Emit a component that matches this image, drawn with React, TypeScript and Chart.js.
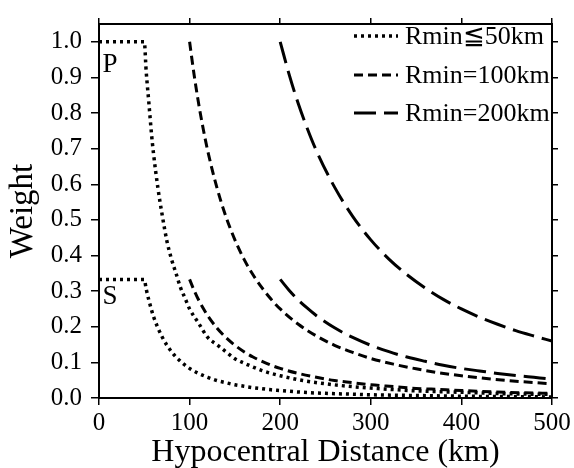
import React, { useEffect, useRef } from "react";
import { Chart, registerables } from "chart.js";
Chart.register(...registerables);

// Hypocentral distance samples (km) and weights
const x50 = [0, 50, 52, 55, 58, 60, 65, 70, 75, 80, 85, 90, 95, 100, 110, 120, 130, 140, 150, 160, 170, 180, 190, 200, 225, 250, 275, 300, 350, 400, 450, 500];
const p50 = [1, 1, 0.92, 0.83, 0.74, 0.69, 0.59, 0.51, 0.44, 0.39, 0.35, 0.31, 0.28, 0.25, 0.21, 0.17, 0.15, 0.13, 0.11, 0.098, 0.087, 0.077, 0.069, 0.0625, 0.049, 0.04, 0.033, 0.028, 0.02, 0.016, 0.012, 0.01];
const s50 = [0.333, 0.333, 0.307, 0.275, 0.247, 0.23, 0.197, 0.17, 0.148, 0.13, 0.115, 0.103, 0.092, 0.083, 0.069, 0.058, 0.049, 0.043, 0.037, 0.033, 0.029, 0.026, 0.023, 0.021, 0.016, 0.013, 0.011, 0.009, 0.007, 0.005, 0.004, 0.003];

const x100 = [100, 105, 110, 115, 120, 130, 140, 150, 160, 170, 180, 190, 200, 220, 240, 260, 280, 300, 325, 350, 375, 400, 450, 500];
const p100 = [1, 0.907, 0.826, 0.756, 0.694, 0.592, 0.51, 0.444, 0.39, 0.346, 0.309, 0.277, 0.25, 0.207, 0.174, 0.148, 0.128, 0.111, 0.095, 0.082, 0.071, 0.0625, 0.049, 0.04];
const s100 = [0.333, 0.302, 0.275, 0.252, 0.231, 0.197, 0.17, 0.148, 0.13, 0.115, 0.103, 0.092, 0.083, 0.069, 0.058, 0.049, 0.043, 0.037, 0.032, 0.027, 0.024, 0.021, 0.016, 0.013];

const x200 = [200, 210, 220, 230, 240, 260, 280, 300, 320, 340, 360, 380, 400, 420, 440, 460, 480, 500];
const p200 = [1, 0.907, 0.826, 0.756, 0.694, 0.592, 0.51, 0.444, 0.39, 0.346, 0.309, 0.277, 0.25, 0.227, 0.207, 0.189, 0.174, 0.16];
const s200 = [0.333, 0.302, 0.275, 0.252, 0.231, 0.197, 0.17, 0.148, 0.13, 0.115, 0.103, 0.092, 0.083, 0.076, 0.069, 0.063, 0.058, 0.053];

const yTickValues = [0, 0.1, 0.2, 0.3, 0.4, 0.5, 0.6, 0.7, 0.8, 0.9, 1.0];
const xTickValues = [0, 100, 200, 300, 400, 500];
const legendLabels = ["Rmin\u226650km", "Rmin=100km", "Rmin=200km"];
const xTitle = "Hypocentral Distance (km)";
const yTitle = "Weight";

const FONT = "'Liberation Serif', 'Times New Roman', Times, serif";
const dotted = [3, 4];
const shortDash = [9, 5];
const longDash = [22, 8];

const pts = (xs: number[], ys: number[]) => xs.map((x, i) => ({ x, y: ys[i] }));

export default function App() {
  const ref = useRef<HTMLCanvasElement>(null);
  useEffect(() => {
    let chart: any = null;
    let cancelled = false;
    const build = () => {
      if (cancelled || !ref.current) return;
      const mk = (data: any, dash: number[], width: number) => ({
        data,
        borderColor: "#000",
        borderWidth: width,
        borderDash: dash,
        pointRadius: 0,
        fill: false,
        cubicInterpolationMode: "monotone" as const,
      });
      const overlay = {
        id: "overlay",
        afterDraw(c: any) {
          const ctx = c.ctx;
          const xs = c.scales.x;
          const ys = c.scales.y;
          ctx.save();
          ctx.fillStyle = "#000";
          ctx.font = `27px ${FONT}`;
          ctx.textBaseline = "middle";
          ctx.textAlign = "left";
          ctx.fillText("P", xs.getPixelForValue(4), ys.getPixelForValue(0.935));
          ctx.fillText("S", xs.getPixelForValue(4), ys.getPixelForValue(0.283));
          ctx.font = `26px ${FONT}`;
          const dashes = [dotted, shortDash, longDash];
          const widths = [3.5, 3, 3];
          const rowY = [36, 75, 113];
          for (let i = 0; i < 3; i++) {
            ctx.strokeStyle = "#000";
            ctx.lineWidth = widths[i];
            ctx.setLineDash(dashes[i]);
            ctx.beginPath();
            ctx.moveTo(354, rowY[i]);
            ctx.lineTo(398, rowY[i]);
            ctx.stroke();
            ctx.setLineDash([]);
            ctx.fillText(legendLabels[i], 405, rowY[i] + 1);
          }
          ctx.restore();
        },
      };
      const tickFont = { family: FONT, size: 25 };
      const setX = (s: any) => { s.ticks = xTickValues.map((value) => ({ value })); };
      const setY = (s: any) => { s.ticks = yTickValues.map((value) => ({ value })); };
      chart = new Chart(ref.current, {
        type: "line",
        data: {
          datasets: [
            mk(pts(x50, p50), dotted, 3.5),
            mk(pts(x50, s50), dotted, 3.5),
            mk(pts(x100, p100), shortDash, 3),
            mk(pts(x100, s100), shortDash, 3),
            mk(pts(x200, p200), longDash, 3),
            mk(pts(x200, s200), longDash, 3),
          ],
        },
        options: {
          animation: false,
          responsive: false,
          layout: { padding: 0 },
          plugins: { legend: { display: false }, tooltip: { enabled: false } },
          scales: {
            x: {
              type: "linear",
              position: "bottom",
              min: 0,
              max: 500,
              afterBuildTicks: setX,
              ticks: { color: "#000", font: tickFont, padding: 3, maxRotation: 0 },
              grid: { display: true, drawOnChartArea: false, drawTicks: true, tickLength: 7, color: "#000", lineWidth: 1.5 },
              border: { display: true, color: "#000", width: 2 },
              title: { display: true, text: xTitle, color: "#000", font: { family: FONT, size: 32 }, padding: { top: 0, bottom: -4 } },
              afterFit: (s: any) => { s.height = 70; },
            },
            x2: {
              type: "linear",
              position: "top",
              min: 0,
              max: 500,
              afterBuildTicks: setX,
              ticks: { display: false },
              grid: { display: true, drawOnChartArea: false, drawTicks: true, tickLength: 6, color: "#000", lineWidth: 1.5 },
              border: { display: true, color: "#000", width: 2 },
              afterFit: (s: any) => { s.height = 19; },
            },
            y: {
              type: "linear",
              position: "left",
              min: 0,
              max: 1.05,
              afterBuildTicks: setY,
              ticks: { color: "#000", font: tickFont, padding: 9, callback: (v: any) => Number(v).toFixed(1) },
              grid: { display: true, drawOnChartArea: false, drawTicks: true, tickLength: 8, color: "#000", lineWidth: 1.5 },
              border: { display: true, color: "#000", width: 2 },
              title: { display: true, text: yTitle, color: "#000", font: { family: FONT, size: 33 }, padding: { top: 4, bottom: 0 } },
              afterFit: (s: any) => { s.width = 99; },
            },
            y2: {
              type: "linear",
              position: "right",
              min: 0,
              max: 1.05,
              afterBuildTicks: setY,
              ticks: { display: false },
              grid: { display: true, drawOnChartArea: false, drawTicks: true, tickLength: 6, color: "#000", lineWidth: 1.5 },
              border: { display: true, color: "#000", width: 2 },
              afterFit: (s: any) => { s.width = 22; },
            },
          },
        } as any,
        plugins: [overlay],
      });
    };
    const fonts: any = (document as any).fonts;
    if (fonts && fonts.load) {
      Promise.all([fonts.load("25px 'Liberation Serif'"), fonts.load("25px 'Times New Roman'")])
        .catch(() => null)
        .then(build);
    } else {
      build();
    }
    return () => {
      cancelled = true;
      if (chart) chart.destroy();
    };
  }, []);
  return (
    <div style={{ position: "fixed", left: 0, top: 0, width: 574, height: 468, background: "#fff" }}>
      <canvas ref={ref} width={574} height={468} style={{ display: "block" }} />
    </div>
  );
}
